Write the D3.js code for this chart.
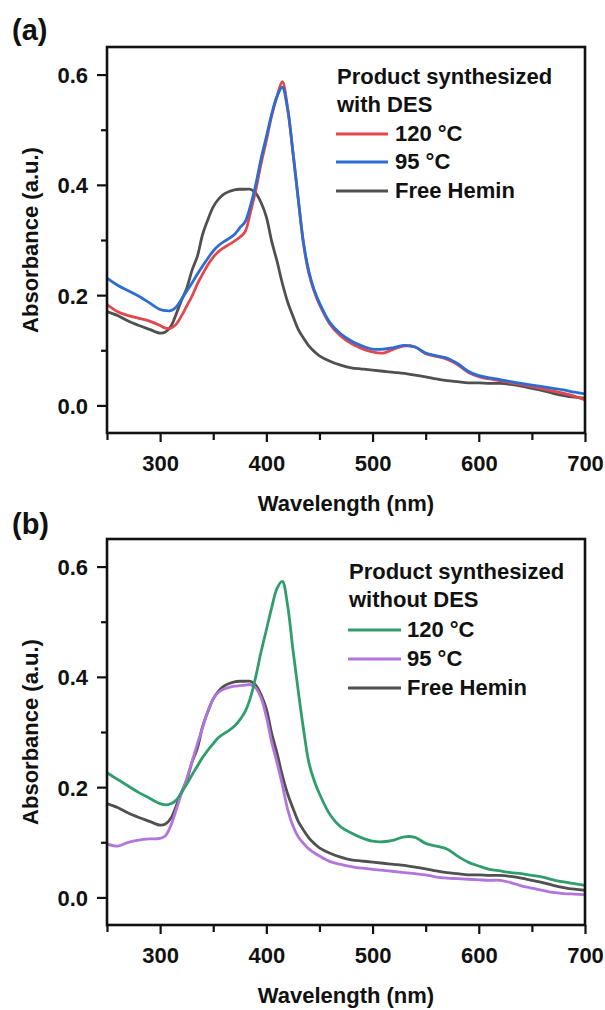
<!DOCTYPE html>
<html>
<head>
<meta charset="utf-8">
<script src="https://cdn.jsdelivr.net/npm/d3@7"></script>
<style>
  body { margin: 0; background: #fff; }
  svg text { font-family: "Liberation Sans", Arial, sans-serif; font-weight: bold; fill: #111; }
</style>
</head>
<body>
<div id="chart"></div>
<script>
// wavelength grid (nm)
var wavelength = [250,260,270,280,290,300,305,310,315,320,325,330,335,340,345,350,355,360,365,370,
  375,380,385,390,395,400,405,410,415,420,425,430,435,440,445,450,460,470,480,490,
  500,510,520,530,540,550,560,570,580,590,600,610,620,630,640,650,660,670,680,690,700];

// Free Hemin (same in both panels)
var freeHemin = [0.170,0.163,0.153,0.145,0.138,0.131,0.133,0.143,0.165,0.190,0.212,0.245,0.270,0.310,0.337,0.360,0.374,0.383,0.388,0.391,
  0.392,0.392,0.392,0.385,0.368,0.342,0.298,0.262,0.222,0.188,0.162,0.138,0.122,0.108,0.098,0.090,0.080,0.073,0.068,0.066,
  0.064,0.062,0.060,0.058,0.055,0.052,0.048,0.045,0.043,0.041,0.041,0.040,0.040,0.038,0.035,0.031,0.027,0.022,0.018,0.015,0.013];

// (a) with DES
var withDES120 = [0.183,0.170,0.163,0.158,0.153,0.145,0.140,0.140,0.147,0.162,0.180,0.198,0.220,0.238,0.255,0.269,0.279,0.286,0.292,0.298,
  0.305,0.315,0.350,0.390,0.438,0.480,0.525,0.560,0.587,0.540,0.460,0.375,0.293,0.240,0.207,0.183,0.147,0.126,0.112,0.103,
  0.097,0.095,0.102,0.108,0.106,0.094,0.089,0.084,0.074,0.060,0.052,0.048,0.045,0.041,0.038,0.034,0.030,0.026,0.022,0.017,0.010];
var withDES95 = [0.231,0.218,0.208,0.198,0.186,0.174,0.172,0.172,0.178,0.192,0.207,0.222,0.238,0.253,0.267,0.280,0.290,0.297,0.303,0.310,
  0.322,0.333,0.362,0.400,0.447,0.487,0.528,0.560,0.577,0.538,0.460,0.375,0.295,0.243,0.210,0.186,0.150,0.130,0.117,0.108,
  0.102,0.102,0.105,0.109,0.106,0.095,0.090,0.086,0.076,0.062,0.054,0.050,0.047,0.043,0.040,0.037,0.034,0.031,0.028,0.024,0.021];

// (b) without DES
var noDES120 = [0.226,0.214,0.202,0.190,0.180,0.170,0.168,0.170,0.176,0.190,0.205,0.222,0.238,0.254,0.267,0.279,0.290,0.297,0.303,0.311,
  0.322,0.337,0.362,0.400,0.445,0.485,0.525,0.560,0.573,0.530,0.450,0.375,0.305,0.245,0.212,0.188,0.150,0.128,0.117,0.108,
  0.102,0.101,0.104,0.110,0.109,0.098,0.093,0.088,0.075,0.064,0.057,0.051,0.048,0.045,0.043,0.040,0.037,0.032,0.028,0.025,0.022];
var noDES95 = [0.097,0.093,0.100,0.104,0.106,0.107,0.112,0.130,0.158,0.188,0.215,0.246,0.278,0.308,0.338,0.360,0.372,0.378,0.381,0.383,
  0.384,0.385,0.386,0.380,0.362,0.328,0.282,0.245,0.205,0.160,0.130,0.110,0.098,0.088,0.081,0.075,0.065,0.060,0.056,0.053,
  0.051,0.049,0.047,0.045,0.043,0.041,0.037,0.035,0.034,0.033,0.032,0.031,0.031,0.027,0.021,0.017,0.013,0.009,0.007,0.006,0.005];

var xMajor = [300,400,500,600,700], xMinor = [250,350,450,550,650];
var yMajor = [0,0.2,0.4,0.6], yMinor = [0.1,0.3,0.5];

var W = 605, H = 1010, FS = "22px";
var svg = d3.select("#chart").append("svg").attr("width", W).attr("height", H);

var panels = [
  { tag: "(a)", top: 47, bottom: 433, tagY: 40,
    legendTitle: ["Product synthesized", "with DES"],
    lx: 337, sx0: 336, sx1: 388, tx: 395, ly: [84,112,141,169,198],
    series: [
      { name: "Free Hemin", values: freeHemin, color: "#505050", leg: 2 },
      { name: "120 °C", values: withDES120, color: "#e4474b", leg: 0 },
      { name: "95 °C", values: withDES95, color: "#2b6dd3", leg: 1 }
    ] },
  { tag: "(b)", top: 539, bottom: 925, tagY: 534,
    legendTitle: ["Product synthesized", "without DES"],
    lx: 349, sx0: 348, sx1: 401, tx: 407, ly: [579,607,637,666,695],
    series: [
      { name: "Free Hemin", values: freeHemin, color: "#505050", leg: 2 },
      { name: "95 °C", values: noDES95, color: "#b275db", leg: 1 },
      { name: "120 °C", values: noDES120, color: "#2f9e6c", leg: 0 }
    ] }
];

var left = 107, right = 585;

panels.forEach(function(p, i) {
  var g = svg.append("g");
  var x = d3.scaleLinear().domain([250, 700]).range([left, right]);
  var y = d3.scaleLinear().domain([-0.05, 0.65]).range([p.bottom, p.top]);

  var clipId = "clip" + i;
  g.append("clipPath").attr("id", clipId).append("rect")
    .attr("x", left).attr("y", p.top).attr("width", right - left).attr("height", p.bottom - p.top);

  // curves
  var line = d3.line()
    .x(function(d, k) { return x(wavelength[k]); })
    .y(function(d) { return y(d); })
    .curve(d3.curveCatmullRom.alpha(0.5));
  p.series.forEach(function(s) {
    g.append("path")
      .datum(s.values)
      .attr("clip-path", "url(#" + clipId + ")")
      .attr("fill", "none")
      .attr("stroke", s.color)
      .attr("stroke-width", 2.8)
      .attr("stroke-linejoin", "round")
      .attr("d", line);
  });

  // x axis
  var xa = g.append("g").attr("transform", "translate(0," + p.bottom + ")")
    .call(d3.axisBottom(x).tickValues(xMajor).tickSize(9).tickFormat(d3.format("d")));
  xa.append("g").call(d3.axisBottom(x).tickValues(xMinor).tickSize(7).tickFormat(""));
  xa.selectAll(".domain").remove();
  xa.selectAll("line").attr("stroke", "#111").attr("stroke-width", 2.2);
  xa.selectAll("text").attr("y", 38).attr("dy", null).style("font-size", FS)
    .style("font-family", "'Liberation Sans', Arial, sans-serif").style("font-weight", "bold").attr("fill", "#111");

  // y axis
  var ya = g.append("g").attr("transform", "translate(" + left + ",0)")
    .call(d3.axisLeft(y).tickValues(yMajor).tickSize(10).tickPadding(9).tickFormat(d3.format(".1f")));
  ya.append("g").call(d3.axisLeft(y).tickValues(yMinor).tickSize(6).tickFormat(""));
  ya.selectAll(".domain").remove();
  ya.selectAll("line").attr("stroke", "#111").attr("stroke-width", 2.2);
  ya.selectAll("text").attr("dy", "0.36em").style("font-size", FS)
    .style("font-family", "'Liberation Sans', Arial, sans-serif").style("font-weight", "bold").attr("fill", "#111");

  // frame
  g.append("rect")
    .attr("x", left).attr("y", p.top)
    .attr("width", right - left).attr("height", p.bottom - p.top)
    .attr("fill", "none").attr("stroke", "#111").attr("stroke-width", 2.6);

  // axis titles
  g.append("text")
    .attr("x", (left + right) / 2).attr("y", p.bottom + 78)
    .attr("text-anchor", "middle").style("font-size", FS)
    .text("Wavelength (nm)");
  g.append("text")
    .attr("transform", "translate(38," + ((p.top + p.bottom) / 2) + ") rotate(-90)")
    .attr("text-anchor", "middle").style("font-size", FS)
    .text("Absorbance (a.u.)");

  // panel tag
  g.append("text").attr("x", 12).attr("y", p.tagY).style("font-size", "29px").text(p.tag);

  // legend
  p.legendTitle.forEach(function(t, k) {
    g.append("text").attr("x", p.lx).attr("y", p.ly[k]).style("font-size", FS).text(t);
  });
  p.series.forEach(function(s) {
    var yy = p.ly[2 + s.leg];
    g.append("line")
      .attr("x1", p.sx0).attr("x2", p.sx1).attr("y1", yy - 7).attr("y2", yy - 7)
      .attr("stroke", s.color).attr("stroke-width", 3.2);
    g.append("text").attr("x", p.tx).attr("y", yy).style("font-size", FS).text(s.name);
  });
});
</script>
</body>
</html>
